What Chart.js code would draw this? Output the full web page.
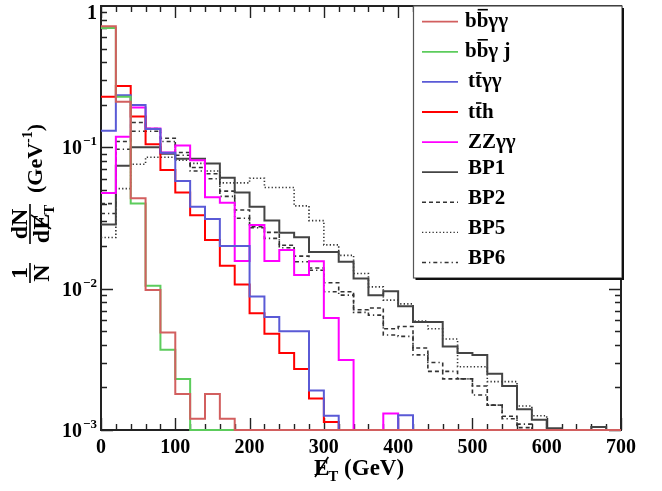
<!DOCTYPE html>
<html>
<head>
<meta charset="utf-8">
<script src="https://cdn.jsdelivr.net/npm/chart.js@4.4.1/dist/chart.umd.min.js"></script>
<style>
  html, body { margin: 0; padding: 0; background: #fff; }
  canvas { display: block; }
</style>
</head>
<body>
<canvas id="chart" width="662" height="491"></canvas>
<script>
// Missing transverse energy distributions, normalised to unit area (20 GeV bins)
const binEdges = [0, 20, 40, 60, 80, 100, 120, 140, 160, 180, 200, 220, 240, 260, 280, 300, 320, 340,
  360, 380, 400, 420, 440, 460, 480, 500, 520, 540, 560, 580, 600, 620, 640, 660, 680, 700];

const bbgg = [0.72, 0.21, 0.0436, 0.0098, 0.0049, 0.0018, 0.0012, 0.0018, 0.0012, 0, 0, 0, 0, 0, 0, 0, 0, 0,
  0, 0, 0, 0, 0, 0, 0, 0, 0, 0, 0, 0, 0, 0, 0, 0, 0];
const bbgj = [0.70, 0.228, 0.040, 0.0105, 0.0037, 0.0023, 0, 0, 0, 0, 0, 0, 0, 0, 0, 0, 0, 0,
  0, 0, 0, 0, 0, 0, 0, 0, 0, 0, 0, 0, 0, 0, 0, 0, 0];
const ttgg = [0.131, 0.234, 0.199, 0.135, 0.0916, 0.0577, 0.038, 0.0311, 0.020, 0.020, 0.0088, 0.0063, 0.0050,
  0.0050, 0.0019, 0.00126, 0, 0, 0, 0, 0.00127, 0, 0, 0, 0, 0, 0, 0, 0, 0, 0, 0, 0, 0, 0];
const tth = [0.228, 0.272, 0.165, 0.105, 0.069, 0.048, 0.0331, 0.0221, 0.0145, 0.0107, 0.0067, 0.0048, 0.0035,
  0.0027, 0.00167, 0.00114, 0, 0, 0, 0, 0, 0, 0, 0, 0, 0, 0, 0, 0, 0, 0, 0, 0, 0, 0];
const zzgg = [0.0475, 0.119, 0.191, 0.136, 0.092, 0.103, 0.081, 0.0443, 0.0406, 0.0157, 0.0282, 0.0157, 0.0188,
  0.0125, 0.0156, 0.0062, 0.00313, 0, 0, 0.00131, 0, 0, 0, 0, 0, 0, 0, 0, 0, 0, 0, 0, 0, 0, 0];
const bp1 = [0.0285, 0.074, 0.100, 0.100, 0.090, 0.083, 0.083, 0.077, 0.061, 0.048, 0.038, 0.0303, 0.0249,
  0.0231, 0.0182, 0.0182, 0.0155, 0.0118, 0.0090, 0.0096, 0.0075, 0.0058, 0.0058, 0.0039, 0.0035, 0.0034,
  0.0025, 0.00205, 0.0014, 0.00118, 0.00103, 0, 0, 0.00105, 0];
const bp2 = [0.040, 0.110, 0.150, 0.136, 0.116, 0.092, 0.072, 0.065, 0.049, 0.036, 0.0274, 0.025, 0.0203,
  0.017, 0.014, 0.011, 0.0095, 0.0071, 0.0073, 0.0052, 0.0054, 0.0038, 0.0026, 0.0023, 0.0023, 0.00205,
  0.0015, 0.00125, 0.00104, 0, 0, 0, 0, 0, 0];
const bp5 = [0.023, 0.051, 0.076, 0.085, 0.085, 0.081, 0.077, 0.068, 0.056, 0.056, 0.0605, 0.052, 0.052,
  0.0385, 0.0303, 0.0204, 0.0172, 0.0128, 0.0103, 0.0083, 0.0078, 0.0059, 0.0052, 0.0044, 0.0028, 0.0028,
  0.0022, 0.0022, 0.00148, 0.00126, 0, 0, 0, 0, 0];
const bp6 = [0.034, 0.097, 0.130, 0.130, 0.110, 0.088, 0.068, 0.060, 0.045, 0.0315, 0.027, 0.0227, 0.0195,
  0.0155, 0.0135, 0.0095, 0.009, 0.0068, 0.0065, 0.0047, 0.0046, 0.0034, 0.0030, 0.0026, 0.0023, 0.00177,
  0.0015, 0.0012, 0.0011, 0, 0, 0, 0, 0, 0];

// Labels (U+0304 marks an overlined letter)
const seriesLabels = ['bb\u0304\u03b3\u03b3', 'bb\u0304\u03b3 j', 'tt\u0304\u03b3\u03b3', 'tt\u0304h',
  'ZZ\u03b3\u03b3', 'BP1', 'BP2', 'BP5', 'BP6'];
const seriesValues = [bbgg, bbgj, ttgg, tth, zzgg, bp1, bp2, bp5, bp6];

const xTickValues = [0, 100, 200, 300, 400, 500, 600, 700];
const yTickValues = [1, 0.1, 0.01, 0.001];
const yTickBases = ['1', '10', '10', '10'];
const yTickExps = ['', '\u22121', '\u22122', '\u22123'];

const X_MIN = 0, X_MAX = 700, Y_MIN = 1e-3, Y_MAX = 1;
const FONT = '"Liberation Serif", "Times New Roman", serif';

const styles = [
  { color: '#d25f5f', width: 2, dash: [] },
  { color: '#5ccc5c', width: 2, dash: [] },
  { color: '#5a5ad6', width: 2, dash: [] },
  { color: '#ff0000', width: 2, dash: [] },
  { color: '#ff00ff', width: 2, dash: [] },
  { color: '#444444', width: 2, dash: [] },
  { color: '#333333', width: 1.6, dash: [4, 3] },
  { color: '#333333', width: 1.6, dash: [1.3, 2.2] },
  { color: '#333333', width: 1.6, dash: [4, 3, 1.3, 3] }
];

// Histogram contour: each bin value held across its bin; empty bins sit on the axis floor
function histPoints(values) {
  const pts = values.map((v, i) => ({ x: binEdges[i], y: v > 0 ? v : Y_MIN }));
  pts.push({ x: binEdges[values.length], y: pts[pts.length - 1].y });
  return pts;
}

const datasets = seriesValues.map((vals, i) => ({
  label: seriesLabels[i],
  data: histPoints(vals),
  borderColor: styles[i].color,
  backgroundColor: styles[i].color,
  borderWidth: styles[i].width,
  borderDash: styles[i].dash,
  borderCapStyle: 'butt',
  borderJoinStyle: 'miter',
  stepped: true,
  pointRadius: 0,
  fill: false,
  clip: false
}));

function drawRich(ctx, text, x, y) {
  // draws text left-aligned at baseline y; letters followed by U+0304 get an overline
  let cx = x;
  for (let i = 0; i < text.length; i++) {
    const ch = text[i];
    if (ch === '\u0304') continue;
    const w = ctx.measureText(ch).width;
    ctx.fillText(ch, cx, y);
    if (text[i + 1] === '\u0304') {
      const m = ctx.measureText(ch);
      const top = y - m.actualBoundingBoxAscent - 2.5;
      ctx.save();
      ctx.lineWidth = 1.6;
      ctx.beginPath();
      ctx.moveTo(cx + 1, top);
      ctx.lineTo(cx + w - 0.5, top);
      ctx.stroke();
      ctx.restore();
    }
    cx += w;
  }
}

const axesPlugin = {
  id: 'rootAxes',
  beforeDatasetsDraw(chart) {
    const { ctx, chartArea: a, scales: { x, y } } = chart;
    ctx.save();
    ctx.strokeStyle = '#222';
    ctx.lineWidth = 2;
    ctx.strokeRect(a.left, a.top, a.right - a.left, a.bottom - a.top);
    ctx.lineWidth = 1.4;
    ctx.beginPath();
    for (let v = X_MIN; v <= X_MAX; v += 20) {
      const px = Math.round(x.getPixelForValue(v)) + 0.5;
      const len = v % 100 === 0 ? 12 : 6;
      ctx.moveTo(px, a.bottom); ctx.lineTo(px, a.bottom - len);
      ctx.moveTo(px, a.top); ctx.lineTo(px, a.top + len);
    }
    for (let e = -3; e < 0; e++) {
      for (let m = 1; m <= 9; m++) {
        const py = Math.round(y.getPixelForValue(m * Math.pow(10, e))) + 0.5;
        const len = m === 1 ? 12 : 6;
        ctx.moveTo(a.left, py); ctx.lineTo(a.left + len, py);
        ctx.moveTo(a.right, py); ctx.lineTo(a.right - len, py);
      }
    }
    ctx.stroke();
    ctx.restore();
  },
  afterDraw(chart) {
    const { ctx, chartArea: a, scales: { x, y } } = chart;
    ctx.save();
    ctx.fillStyle = '#000';
    ctx.strokeStyle = '#000';

    // x tick labels
    ctx.font = 'bold 20px ' + FONT;
    ctx.textAlign = 'center';
    ctx.textBaseline = 'alphabetic';
    xTickValues.forEach(v => ctx.fillText(String(v), x.getPixelForValue(v), a.bottom + 23));

    // y tick labels with exponents
    yTickValues.forEach((v, i) => {
      const py = Math.max(y.getPixelForValue(v), a.top + 6);
      const right = a.left - 4;
      ctx.textAlign = 'left';
      ctx.font = 'bold 13px ' + FONT;
      const we = yTickExps[i] ? ctx.measureText(yTickExps[i]).width : 0;
      ctx.font = 'bold 20px ' + FONT;
      const wb = ctx.measureText(yTickBases[i]).width;
      const bx = right - we - wb - (we ? 1 : 0);
      ctx.fillText(yTickBases[i], bx, py + 7);
      if (yTickExps[i]) {
        ctx.font = 'bold 13px ' + FONT;
        ctx.fillText(yTickExps[i], right - we, py - 2);
      }
    });

    // x axis title: E-slash_T (GeV)
    {
      const bx = 314, by = 475;
      ctx.textAlign = 'left';
      ctx.font = 'bold 23px ' + FONT;
      const wE = ctx.measureText('E').width;
      ctx.fillText('E', bx, by);
      ctx.lineWidth = 1.6;
      ctx.beginPath();
      ctx.moveTo(bx + 1, by + 2);
      ctx.lineTo(bx + wE - 1, by - 18);
      ctx.stroke();
      ctx.font = 'bold 15px ' + FONT;
      const wT = ctx.measureText('T').width;
      ctx.fillText('T', bx + wE - 1, by + 6);
      ctx.font = 'bold 23px ' + FONT;
      ctx.fillText(' (GeV)', bx + wE + wT - 1, by);
    }

    // y axis title: 1/N dN/dE-slash_T (GeV^-1), rotated
    {
      ctx.save();
      ctx.translate(30, 215);
      ctx.rotate(-Math.PI / 2);
      ctx.textAlign = 'center';
      ctx.font = 'bold 24px ' + FONT;
      ctx.lineWidth = 1.6;
      // 1/N
      const c1 = -58;
      ctx.fillText('1', c1, -3);
      ctx.fillText('N', c1, 19);
      ctx.beginPath(); ctx.moveTo(c1 - 10, 0); ctx.lineTo(c1 + 10, 0); ctx.stroke();
      // dN / dE_T
      const c2 = -9;
      ctx.fillText('dN', c2, -3);
      ctx.textAlign = 'left';
      const wd = ctx.measureText('dE').width;
      const wdd = ctx.measureText('d').width;
      const wE = ctx.measureText('E').width;
      ctx.font = 'bold 15px ' + FONT;
      const wT = ctx.measureText('T').width;
      ctx.font = 'bold 24px ' + FONT;
      const startX = c2 - (wd + wT - 1) / 2;
      ctx.fillText('dE', startX, 19);
      ctx.beginPath();
      ctx.moveTo(startX + wdd + 1, 21);
      ctx.lineTo(startX + wdd + wE - 1, 1);
      ctx.stroke();
      ctx.font = 'bold 15px ' + FONT;
      ctx.fillText('T', startX + wd - 1, 24);
      ctx.beginPath(); ctx.moveTo(c2 - 20, 0); ctx.lineTo(c2 + 20, 0); ctx.stroke();
      // (GeV^-1)
      ctx.font = 'bold 22px ' + FONT;
      const g1 = '(GeV', g3 = ')';
      const wg1 = ctx.measureText(g1).width;
      const gx = 22;
      ctx.fillText(g1, gx, 12);
      ctx.font = 'bold 14px ' + FONT;
      const wg2 = ctx.measureText('-1').width;
      ctx.fillText('-1', gx + wg1, 2);
      ctx.font = 'bold 22px ' + FONT;
      ctx.fillText(g3, gx + wg1 + wg2, 12);
      ctx.restore();
    }

    // legend box with shadow
    {
      const L = 413.5, T = 6, R = 622, B = 278;
      ctx.fillStyle = '#fff';
      ctx.fillRect(L, T, R - L, B - T);
      ctx.strokeStyle = '#555';
      ctx.lineWidth = 1.2;
      ctx.strokeRect(L, T, R - L, B - T);
      ctx.strokeStyle = '#111';
      ctx.lineWidth = 2;
      ctx.beginPath();
      ctx.moveTo(R + 1, T + 2); ctx.lineTo(R + 1, B + 1); ctx.lineTo(L + 2, B + 1);
      ctx.stroke();
      chart.data.datasets.forEach((ds, i) => {
        const ry = 21.7 + 30.1 * i;
        ctx.save();
        ctx.strokeStyle = ds.borderColor;
        ctx.lineWidth = ds.borderWidth * 0.9;
        ctx.setLineDash(ds.borderDash);
        ctx.beginPath();
        ctx.moveTo(422, ry); ctx.lineTo(458, ry);
        ctx.stroke();
        ctx.restore();
        ctx.fillStyle = '#000';
        ctx.strokeStyle = '#000';
        ctx.font = 'bold 21px ' + FONT;
        ctx.textAlign = 'left';
        const dy = i < 5 ? 5.5 : 1.5;
        const tx = ds.label.startsWith('b') ? 465 : 468;
        drawRich(ctx, ds.label, tx, ry + dy);
      });
    }
    ctx.restore();
  }
};

new Chart(document.getElementById('chart'), {
  type: 'line',
  data: { datasets },
  options: {
    responsive: false,
    animation: false,
    events: [],
    layout: { padding: { left: 101, right: 41, top: 6, bottom: 61 } },
    scales: {
      x: { type: 'linear', min: X_MIN, max: X_MAX, display: false },
      y: { type: 'logarithmic', min: Y_MIN, max: Y_MAX, display: false }
    },
    plugins: { legend: { display: false }, tooltip: { enabled: false } }
  },
  plugins: [axesPlugin]
});
</script>
</body>
</html>
